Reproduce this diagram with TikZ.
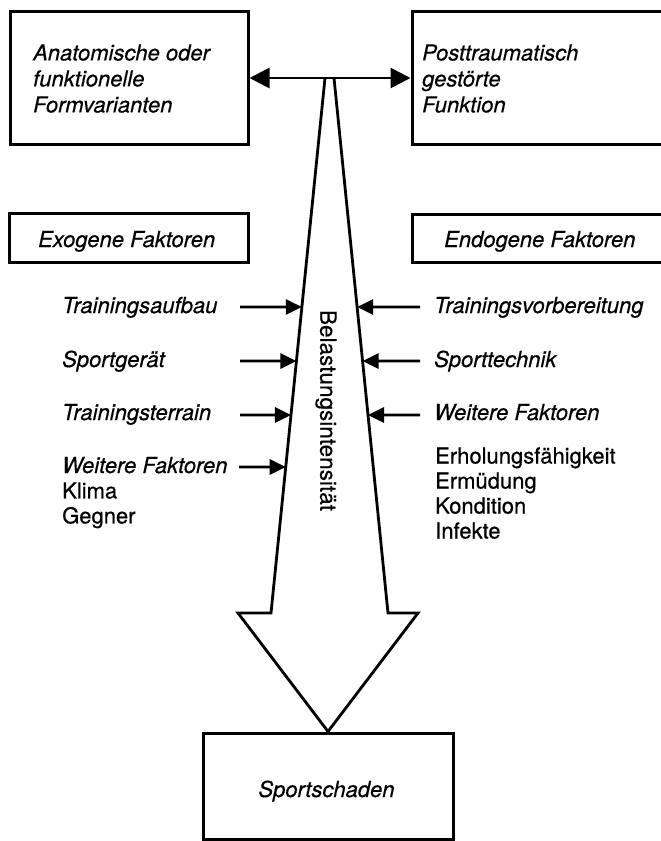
\documentclass[tikz,border=0pt]{standalone}
\usepackage{fontspec}
\setmainfont{TeX Gyre Heros}[UprightFeatures={FakeBold=0.5}, ItalicFeatures={FakeBold=0.5}]
\usetikzlibrary{arrows.meta,calc}
\begin{document}
\begin{tikzpicture}[x=1pt,y=-1pt,
  box/.style={draw, line width=3pt, inner sep=0pt},
  it/.style={font=\fontsize{22}{26}\selectfont\itshape, inner sep=0pt},
  up/.style={font=\fontsize{22}{25}\selectfont, inner sep=0pt},
  inarrow/.style={line width=2.8pt, -{Triangle[length=16pt,width=15pt]}},
  dblarrow/.style={line width=2.8pt, {Triangle[length=20pt,width=20pt]}-{Triangle[length=20pt,width=20pt]}},
  bigarrow/.style={line width=2.8pt, line join=miter},
]
\path[use as bounding box, fill=white] (0,0) rectangle (661,841);
\clip (0,0) rectangle (661,841);

% boxes
\node[box, minimum width=238pt, minimum height=133pt] (tl) at (129,78) {};
\node[box, minimum width=268pt, minimum height=133pt] (tr) at (546,78) {};
\node[box, minimum width=239pt, minimum height=49pt] (exo) at (128.5,237.5) {};
\node[box, minimum width=268pt, minimum height=48pt] (endo) at (546,238) {};
\node[box, minimum width=250pt, minimum height=106pt] (bot) at (328,786) {};

% box texts
\node[it, anchor=north west, align=left] (tlt) at (33,44.2) {Anatomische oder\\funktionelle\\Formvarianten};
\node[it, anchor=north west, align=left] (trt) at (422,44.2) {Posttraumatisch\\gestörte\\Funktion};
\node[it, anchor=base west] (exot) at (38,247) {Exogene Faktoren};
\node[it, anchor=base west] (endot) at (444,247) {Endogene Faktoren};
\node[it, anchor=base] (bott) at (326.5,797) {Sportschaden};

% double arrow
\draw[dblarrow] (tl.east) -- (tr.west);

% big arrow
\coordinate (lt) at (325,78);
\coordinate (lb) at (271,613);
\coordinate (lw) at (238,613);
\coordinate (rw) at (418,613);
\coordinate (rb) at (388,613);
\coordinate (rt) at (334,78);
\draw[bigarrow] (lt) -- (lb) -- (lw) -- (bot.north) -- (rw) -- (rb) -- (rt);

\node[font=\fontsize{22.5}{26}\selectfont, inner sep=0pt, rotate=-90] (bel) at (326,410.5) {Belastungsintensität};

% left factors
\node[it, anchor=base west] (l1) at (62,313) {Trainingsaufbau};
\node[it, anchor=base west] (l2) at (62,367) {Sportgerät};
\node[it, anchor=base west] (l3) at (62,420) {Trainingsterrain};
\node[it, anchor=base west] (l4) at (62,473) {Weitere Faktoren};
\node[up, anchor=north west, align=left] (l5) at (62,482.2) {Klima\\Gegner};

\coordinate (s1) at (240,307);
\coordinate (s2) at (240,361);
\coordinate (s3) at (240,415);
\coordinate (s4) at (239,467);
\draw[inarrow] (s1) -- ($(lt)!0.4280!(lb)$);
\draw[inarrow] (s2) -- ($(lt)!0.5290!(lb)$);
\draw[inarrow] (s3) -- ($(lt)!0.6299!(lb)$);
\draw[inarrow] (s4) -- ($(lt)!0.7271!(lb)$);

% right factors
\node[it, anchor=base west] (r1) at (434,313) {Trainingsvorbereitung};
\node[it, anchor=base west] (r2) at (434,367) {Sporttechnik};
\node[it, anchor=base west] (r3) at (434,420) {Weitere Faktoren};
\node[up, anchor=north west, align=left] (r4) at (435,447.2) {Erholungsfähigkeit\\Ermüdung\\Kondition\\Infekte};

\coordinate (t1) at (420,307);
\coordinate (t2) at (420,361);
\coordinate (t3) at (420,415);
\draw[inarrow] (t1) -- ($(rt)!0.4280!(rb)$);
\draw[inarrow] (t2) -- ($(rt)!0.5290!(rb)$);
\draw[inarrow] (t3) -- ($(rt)!0.6299!(rb)$);
\end{tikzpicture}
\end{document}
